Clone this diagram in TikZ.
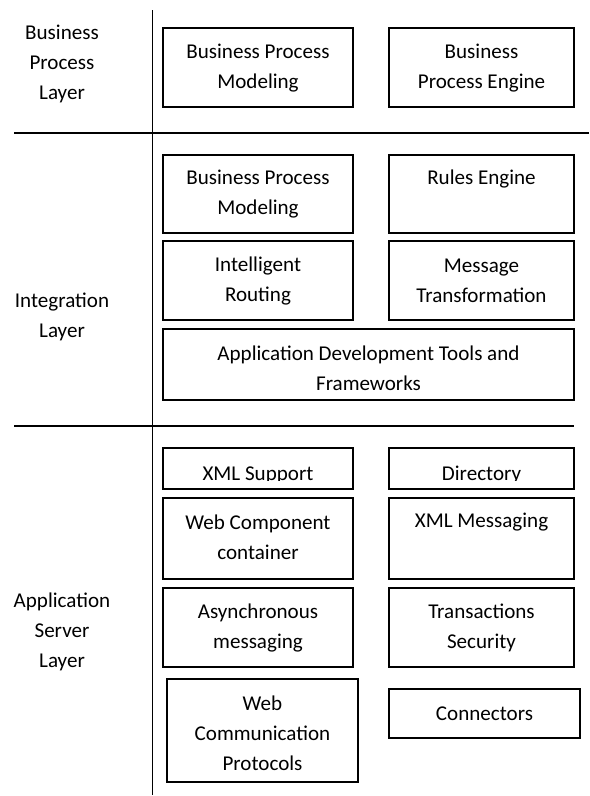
\documentclass[tikz,border=0pt]{standalone}
\usepackage{fontspec}
\setmainfont{Carlito}
\usepackage{tikz}

\tikzset{
  box/.style={line width=1.4pt},
  sep/.style={line width=1.1pt},
  txt/.style={align=center, inner sep=0pt, font=\fontsize{15.8}{22.5}\selectfont}
}

\begin{document}
\begin{tikzpicture}[x=0.75pt,y=-0.75pt]
\useasboundingbox (0,0) rectangle (589,796);

% layers
\draw[sep] (152.7,10) -- (152.7,795);
\draw[sep] (14,133) -- (589,133);
\draw[sep] (14,426) -- (574,426);
\node[txt] (lbp) at (62,64) {Business\\Process\\Layer};
\node[txt] (lint) at (62,317) {Integration\\Layer};
\node[txt] (las) at (62,632) {Application\\Server\\Layer};

% business process layer
\draw[box] (163,28) -- (353,28) -- (353,107) -- (163,107) -- cycle;
\node[txt] (bpm) at (258,68) {Business Process\\Modeling};
\draw[box] (389,28) -- (574,28) -- (574,107) -- (389,107) -- cycle;
\node[txt] (bpe) at (481.5,68) {Business\\Process Engine};

% integration layer
\draw[box] (163,155) -- (353,155) -- (353,233) -- (163,233) -- cycle;
\node[txt] (ibpm) at (258,194) {Business Process\\Modeling};
\draw[box] (389,155) -- (574,155) -- (574,233) -- (389,233) -- cycle;
\node[txt] (rules) at (481.5,179) {Rules Engine};
\draw[box] (163,241) -- (353,241) -- (353,320) -- (163,320) -- cycle;
\node[txt] (route) at (258,280.5) {Intelligent\\Routing};
\draw[box] (389,241) -- (574,241) -- (574,320) -- (389,320) -- cycle;
\node[txt] (transf) at (481.5,280.5) {Message\\Transformation};
\draw[box] (163,329) -- (574,329) -- (574,400) -- (163,400) -- cycle;
\node[txt] (adt) at (368.5,368) {Application Development Tools and\\Frameworks};

% application server layer
\draw[box] (163,448) -- (353,448) -- (353,489) -- (163,489) -- cycle;
\begin{scope}
\clip (163,448) rectangle (353,480);
\node[txt, anchor=base] (xmls) at (258,480) {XML Support};
\end{scope}
\draw[box] (389,448) -- (574,448) -- (574,489) -- (389,489) -- cycle;
\begin{scope}
\clip (389,448) rectangle (574,480);
\node[txt, anchor=base] (dir) at (481.5,480) {Directory};
\end{scope}
\draw[box] (163,498) -- (353,498) -- (353,579) -- (163,579) -- cycle;
\node[txt] (webc) at (258,537) {Web Component\\container};
\draw[box] (389,498) -- (574,498) -- (574,579) -- (389,579) -- cycle;
\node[txt] (xmlm) at (481.5,522) {XML Messaging};
\draw[box] (163,588) -- (353,588) -- (353,667) -- (163,667) -- cycle;
\node[txt] (async) at (258,628) {Asynchronous\\messaging};
\draw[box] (389,588) -- (574,588) -- (574,667) -- (389,667) -- cycle;
\node[txt] (tsec) at (481.5,628) {Transactions\\Security};
\draw[box] (167,679) -- (358,679) -- (358,782) -- (167,782) -- cycle;
\node[txt] (wcp) at (262.5,733) {Web\\Communication\\Protocols};
\draw[box] (389,689) -- (580,689) -- (580,738) -- (389,738) -- cycle;
\node[txt] (conn) at (484.5,713.5) {Connectors};

\end{tikzpicture}
\end{document}
